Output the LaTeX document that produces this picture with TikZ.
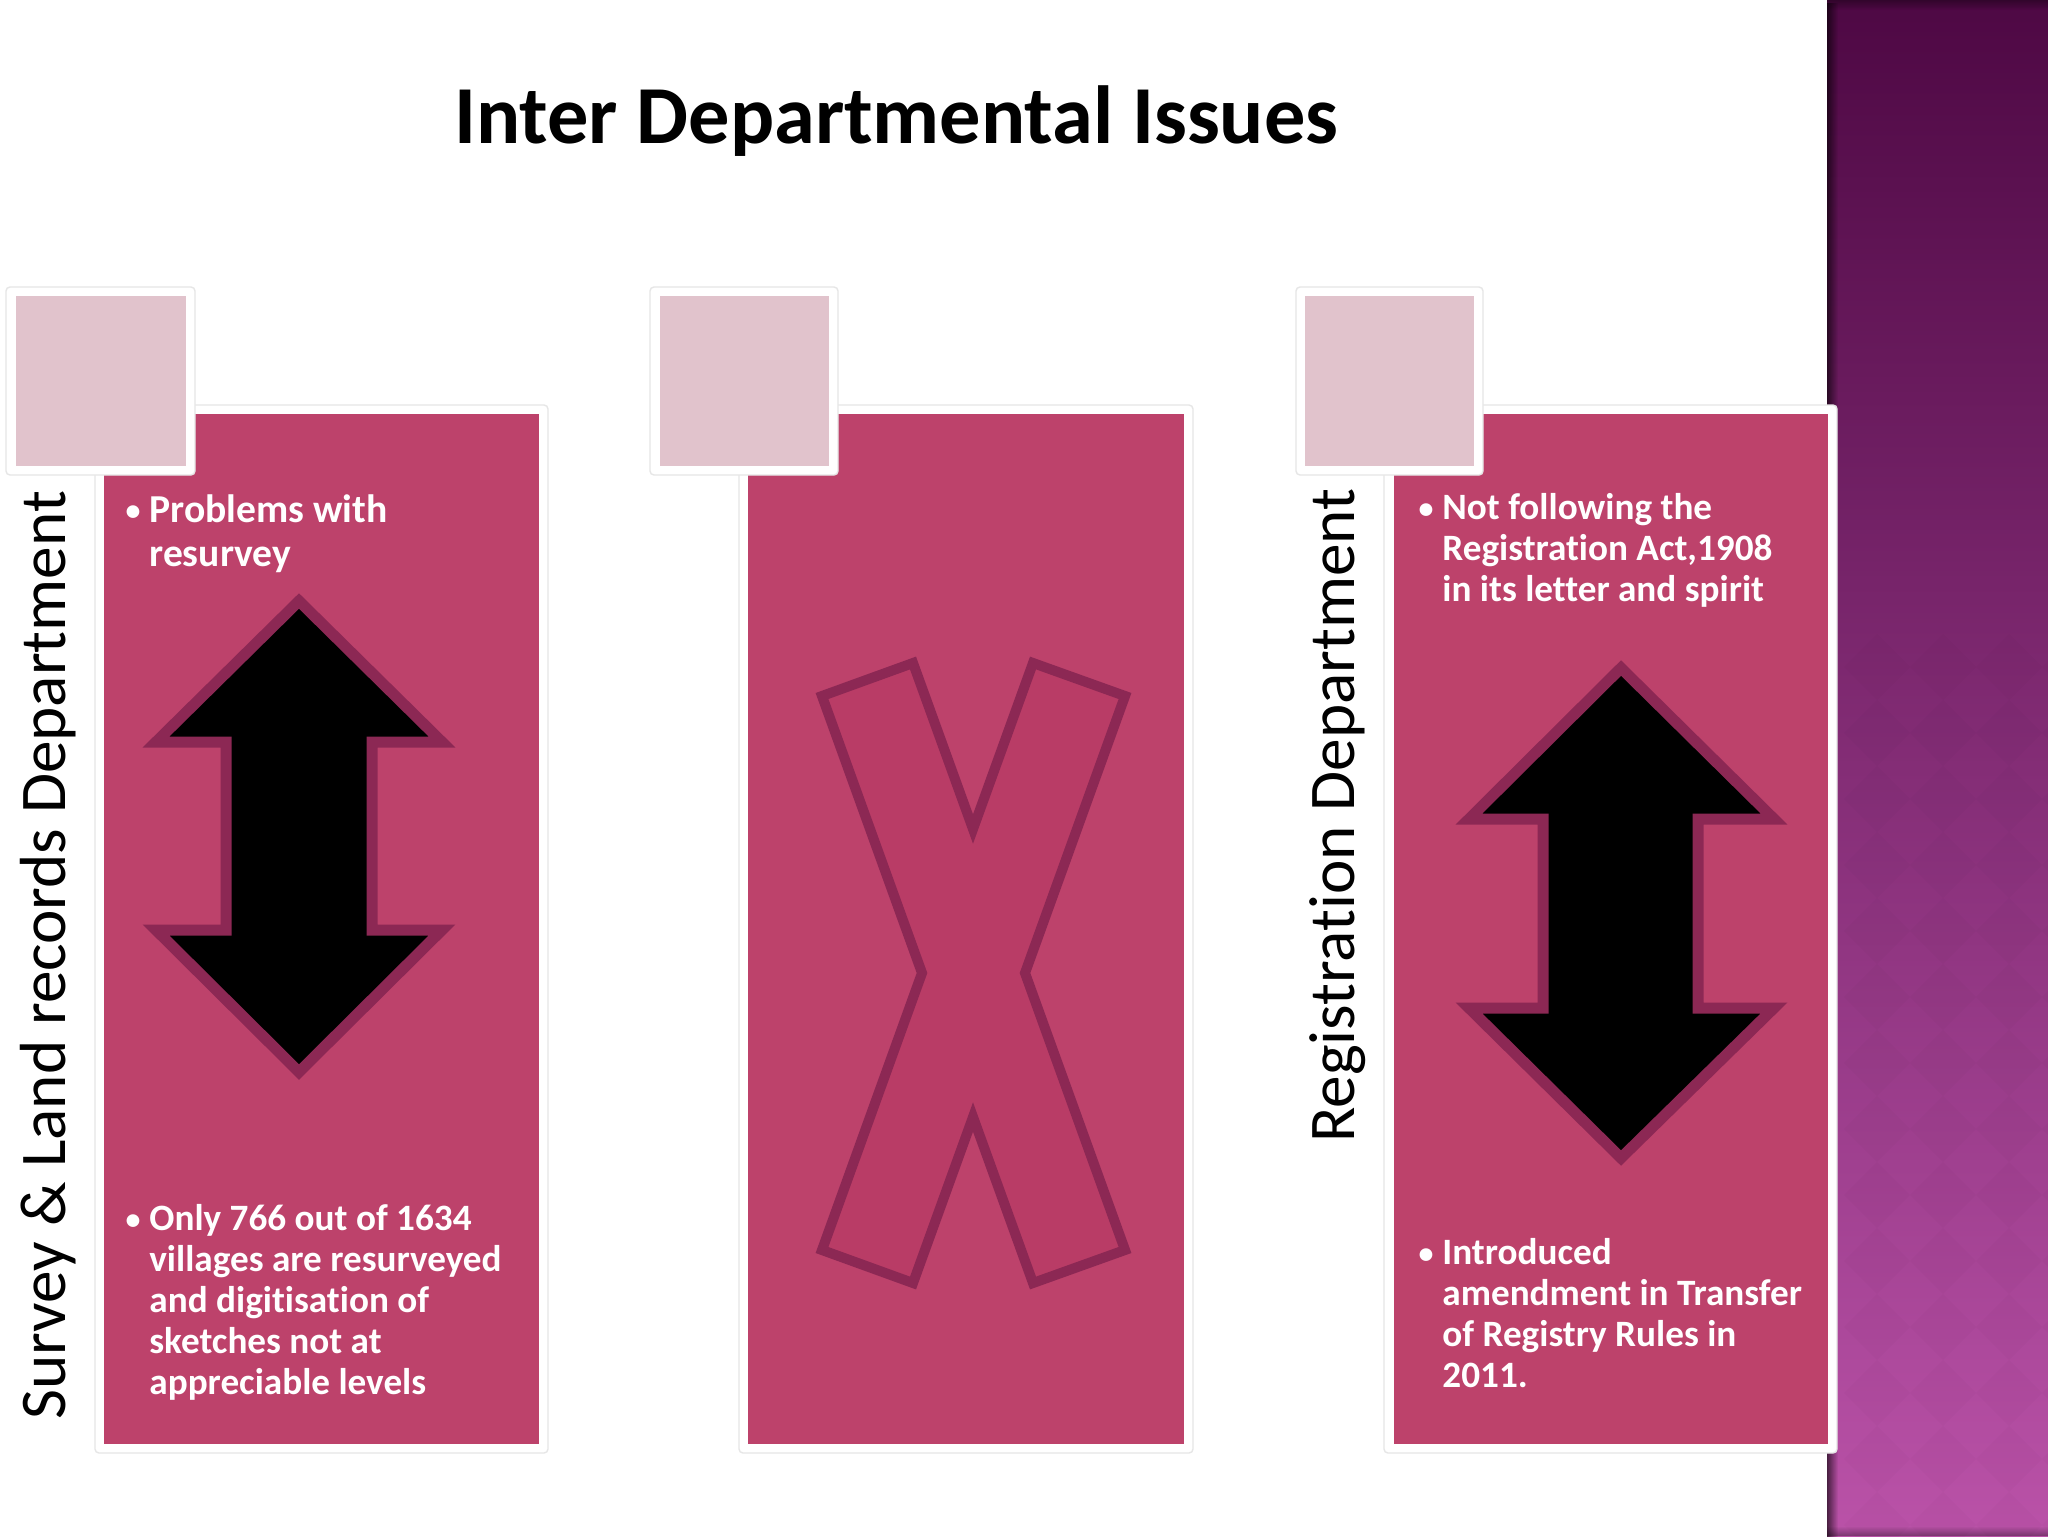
\documentclass[tikz,border=0pt]{standalone}
\usepackage{fontspec}
\usetikzlibrary{fadings}
\setmainfont[Ligatures=CommonOff]{Carlito}
\definecolor{cardrose}{RGB}{189,66,107}
\definecolor{crossrose}{RGB}{185,60,102}
\definecolor{edgerose}{RGB}{140,40,84}
\definecolor{tabrose}{RGB}{225,195,204}
\definecolor{rimgrey}{RGB}{230,230,230}
\begin{document}
\begin{tikzpicture}[x=0.5pt,y=-0.5pt]
  \tikzset{frame/.style={fill=white, draw=rimgrey, line width=0.7pt, rounded corners=2pt}}
  \tikzset{card/.style={fill=cardrose}}
  \tikzset{tab/.style={fill=tabrose}}
  \tikzset{bigarrow/.style={fill=black, draw=edgerose, line width=5.5pt, miter limit=10}}
  \tikzset{crossmark/.style={fill=crossrose, draw=edgerose, line width=5pt, miter limit=10}}
  \tikzset{heading/.style={inner sep=0pt, anchor=base west, font=\fontsize{41.2}{48}\selectfont\bfseries}}
  \tikzset{sidelabel/.style={inner sep=0pt, anchor=base west, rotate=90, font=\fontsize{32.6}{38}\selectfont}}
  \tikzset{itemtext/.style={inner sep=0pt, anchor=north west, align=left, text=white, font=\fontsize{18.6}{20.5}\selectfont\bfseries}}
  \tikzset{itemdot/.style={inner sep=0pt, text=white, font=\fontsize{15}{18}\selectfont\bfseries}}

  \useasboundingbox (0,0) rectangle (2048,1536);
  \fill[white] (0,0) rectangle (2048,1536);

  \shade[top color={rgb,255:red,78;green,8;blue,68}, middle color={rgb,255:red,130;green,52;blue,120}, bottom color={rgb,255:red,186;green,82;blue,168}] (1827,0) rectangle (2048,1536);
  \begin{scope}
    \clip (1827,0) rectangle (2048,1536);
    \foreach \i in {0,...,3} \foreach \j in {-11,...,2}
      \fill[black, opacity=0.016] (1877+66*\i,1393+66*\j-33) -- ++(33,33) -- ++(-33,33) -- ++(-33,-33) -- cycle;
  \end{scope}
  \fill[black, opacity=0.6, path fading=east] (1827,0) rectangle (1838,1536);
  \fill[black, opacity=0.35, path fading=south] (1827,0) rectangle (2048,10);
  \fill[black, opacity=0.35, path fading=north] (1827,1526) rectangle (2048,1536);

  \node[heading] (title) at (454,143) {Inter Departmental Issues};

  \draw[frame] (95,405) rectangle (548,1453);
  \fill[card] (104,414) rectangle (539,1444);
  \draw[frame] (6,287) rectangle (195,475);
  \fill[tab] (16,296) rectangle (186,466);

  \draw[frame] (739,405) rectangle (1193,1453);
  \fill[card] (748,414) rectangle (1184,1444);
  \draw[frame] (650,287) rectangle (838,475);
  \fill[tab] (660,296) rectangle (829,466);

  \draw[frame] (1384,405) rectangle (1837,1453);
  \fill[card] (1394,414) rectangle (1828,1444);
  \draw[frame] (1296,287) rectangle (1483,475);
  \fill[tab] (1305,296) rectangle (1474,466);

  \node[sidelabel] (survey) at (65,1420) {Survey \& Land records Department};
  \node[sidelabel] (registration) at (1354,1143) {Registration Department};

  \node[itemdot] (dotone) at (133,513) {•};
  \node[itemtext, font=\fontsize{19.8}{22.2}\selectfont\bfseries] (problems) at (149,494) {Problems with\\resurvey};
  \node[itemdot] (dottwo) at (133,1222) {•};
  \node[itemtext] (villages) at (149,1204) {Only 766 out of 1634\\villages are resurveyed\\and digitisation of\\sketches not at\\appreciable levels};
  \node[itemdot] (dotthree) at (1426,511) {•};
  \node[itemtext] (registry) at (1442,493) {Not following the\\Registration Act,1908\\in its letter and spirit};
  \node[itemdot] (dotfour) at (1426,1256) {•};
  \node[itemtext] (amendment) at (1442,1238) {Introduced\\amendment in Transfer\\of Registry Rules in\\2011.};

  \draw[bigarrow] (299,601) -- (442,742) -- (372,742) -- (372,930) -- (442,930) -- (299,1072) -- (156,930) -- (226,930) -- (226,742) -- (156,742) -- cycle;
  \draw[bigarrow] (1621,668) -- (1774,819) -- (1698,819) -- (1698,1008) -- (1774,1008) -- (1621,1158) -- (1469,1008) -- (1543,1008) -- (1543,819) -- (1469,819) -- cycle;
  \draw[crossmark] (822,696) -- (913,663) -- (973,829) -- (1033,663) -- (1125,696) -- (1025,973) -- (1125,1250) -- (1033,1283) -- (973,1117) -- (913,1283) -- (822,1250) -- (922,973) -- cycle;
\end{tikzpicture}
\end{document}
